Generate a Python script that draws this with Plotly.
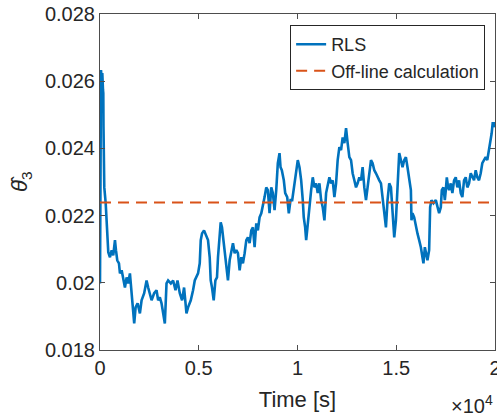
import plotly.graph_objects as go

# RLS estimate of theta_3 over time (s)
time_s = [
    0, 15, 35, 50, 86, 116, 152, 167, 177, 217, 288, 338, 389, 419, 505, 591, 672, 758, 808, 874,
    960, 1010, 1096, 1177, 1263, 1348, 1429, 1515, 1601, 1682, 1732, 1803, 1904, 2020, 2106, 2237,
    2358, 2439, 2525, 2611, 2742, 2863, 2944, 3030, 3116, 3232, 3283, 3368, 3449, 3586, 3702, 3823,
    3924, 4040, 4156, 4257, 4378, 4459, 4596, 4712, 4798, 4964,
    5050, 5101, 5166, 5267, 5388, 5469, 5555, 5606, 5671, 5757, 5843, 5924, 5974, 6060, 6111, 6176,
    6277, 6398, 6479, 6565, 6651, 6732, 6818, 6903, 6984, 7070, 7156, 7237, 7323, 7408, 7489, 7575,
    7661, 7742, 7828, 7913, 7994, 8080, 8166, 8247, 8333, 8418, 8499, 8585, 8671, 8752, 8838, 8923,
    9004, 9090, 9141, 9206, 9307, 9378, 9479, 9560, 9646, 9731, 9812, 9933, 10014,
    10100, 10186, 10267, 10317, 10388, 10439, 10489, 10555, 10605, 10691, 10772, 10858, 10943, 11024,
    11110, 11196, 11277, 11363, 11448, 11529, 11615, 11701, 11782, 11868, 11953, 12034, 12120, 12206,
    12287, 12373, 12458, 12539, 12625, 12711, 12792, 12878, 12963, 13044, 13130, 13216, 13297, 13383,
    13468, 13549, 13635, 13721, 13802, 13888, 13973, 14054, 14140, 14226, 14307, 14393, 14478, 14559,
    14645, 14731, 14812, 14898, 14983, 15064,
    15150, 15236, 15317, 15403, 15488, 15569, 15655, 15741, 15771, 15822, 15908, 15993, 16074, 16160,
    16246, 16327, 16377, 16448, 16499, 16580, 16665, 16716, 16782, 16883, 17004, 17085, 17170, 17256,
    17307, 17388, 17459, 17509, 17560, 17626, 17675, 17761, 17842, 17928, 18013, 18094, 18180, 18266,
    18347, 18433, 18518, 18599, 18685, 18771, 18852, 18938, 19023, 19104, 19190, 19276, 19357, 19443,
    19528, 19609, 19695, 19781, 19831, 19882, 19948, 20000,
]

theta3_rls = [
    0.01998, 0.02246, 0.02544, 0.02633, 0.02603, 0.02624, 0.02574, 0.02565, 0.02463, 0.02284,
    0.02237, 0.02165, 0.02106, 0.02091, 0.02076, 0.02097, 0.02082, 0.02127, 0.02097, 0.02067,
    0.02058, 0.02028, 0.02037, 0.02007, 0.01986, 0.02016, 0.01998, 0.02028, 0.01969, 0.01927,
    0.01879, 0.01927, 0.01939, 0.01909, 0.01948, 0.01969, 0.02007, 0.01986, 0.01969, 0.01948,
    0.01969, 0.01978, 0.01948, 0.01957, 0.01939, 0.01897, 0.01879, 0.01998, 0.02007, 0.01998,
    0.02007, 0.01978, 0.02007, 0.01969, 0.01948, 0.01986, 0.01909, 0.01927, 0.01948, 0.01978,
    0.02007, 0.02028,
    0.02058, 0.02127, 0.02147, 0.02156, 0.02141, 0.02127, 0.02076, 0.02007, 0.01986, 0.01948,
    0.02007, 0.02016, 0.02076, 0.02165, 0.02180, 0.02165, 0.02106, 0.02046, 0.02007, 0.02067,
    0.02097, 0.02118, 0.02088, 0.02097, 0.02088, 0.02037, 0.02076, 0.02058, 0.02088, 0.02127,
    0.02135, 0.02118, 0.02156, 0.02165, 0.02106, 0.02177, 0.02156, 0.02195, 0.02207, 0.02237,
    0.02255, 0.02284, 0.02276, 0.02207, 0.02284, 0.02267, 0.02216, 0.02276, 0.02356, 0.02386,
    0.02344, 0.02335, 0.02305, 0.02267, 0.02255, 0.02207, 0.02246, 0.02246, 0.02284, 0.02344,
    0.02365,
    0.02344, 0.02305, 0.02246, 0.02195, 0.02165, 0.02127, 0.02156, 0.02195, 0.02246, 0.02276,
    0.02314, 0.02284, 0.02296, 0.02267, 0.02296, 0.02246, 0.02225, 0.02186, 0.02267, 0.02296,
    0.02314, 0.02296, 0.02305, 0.02255, 0.02296, 0.02365, 0.02404, 0.02395, 0.02433, 0.02416,
    0.02460, 0.02416, 0.02374, 0.02365, 0.02326, 0.02305, 0.02284, 0.02296, 0.02314, 0.02305,
    0.02344, 0.02284, 0.02246, 0.02284, 0.02326, 0.02365, 0.02356, 0.02335, 0.02326, 0.02314,
    0.02305, 0.02296, 0.02255, 0.02207, 0.02165, 0.02246, 0.02296, 0.02284, 0.02216, 0.02135,
    0.02186, 0.02267,
    0.02386, 0.02365, 0.02344, 0.02365, 0.02374, 0.02344, 0.02305, 0.02276, 0.02186, 0.02207,
    0.02195, 0.02165, 0.02147, 0.02127, 0.02106, 0.02076, 0.02058, 0.02106, 0.02088, 0.02067,
    0.02097, 0.02225, 0.02246, 0.02237, 0.02246, 0.02225, 0.02207, 0.02225, 0.02276, 0.02284,
    0.02246, 0.02276, 0.02314, 0.02284, 0.02276, 0.02296, 0.02267, 0.02305, 0.02314, 0.02284,
    0.02305, 0.02267, 0.02255, 0.02305, 0.02314, 0.02284, 0.02296, 0.02326, 0.02314, 0.02305,
    0.02335, 0.02314, 0.02305, 0.02326, 0.02356, 0.02365, 0.02374, 0.02365, 0.02395, 0.02425,
    0.02445, 0.02475, 0.02475, 0.02463,
]

# Off-line (batch) estimate
theta3_offline = 0.02239
offline_span = [0, 20000]

x_tick_vals = [0, 5000, 10000, 15000, 20000]
x_tick_text = ["0", "0.5", "1", "1.5", "2"]
y_tick_vals = [0.018, 0.020, 0.022, 0.024, 0.026, 0.028]
y_tick_text = ["0.018", "0.02", "0.022", "0.024", "0.026", "0.028"]

FONT = "Liberation Sans, Arial, Helvetica, sans-serif"
AX_COLOR = "#4d4d4d"
TXT_COLOR = "#262626"

fig = go.Figure()
fig.add_trace(go.Scatter(
    x=time_s, y=theta3_rls, mode="lines", name="RLS",
    line=dict(color="#0072BD", width=2.6),
))
fig.add_trace(go.Scatter(
    x=offline_span, y=[theta3_offline, theta3_offline], mode="lines",
    name="Off-line calculation",
    line=dict(color="#D95319", width=2, dash="11px,7px"),
))

axis_common = dict(
    showline=True, linecolor=AX_COLOR, linewidth=1, mirror="ticks",
    ticks="inside", ticklen=5, tickcolor=AX_COLOR, tickwidth=1,
    showgrid=False, zeroline=False, automargin=False,
    tickfont=dict(family=FONT, size=20, color=TXT_COLOR),
)

fig.update_layout(
    width=497, height=417,
    margin=dict(l=100, r=2, t=14, b=67),
    paper_bgcolor="white", plot_bgcolor="white",
    showlegend=True,
    legend=dict(
        x=0.975, y=0.967, xanchor="right", yanchor="top",
        bordercolor=TXT_COLOR, borderwidth=1, bgcolor="white",
        font=dict(family=FONT, size=18, color=TXT_COLOR),
        tracegroupgap=0, itemwidth=30,
    ),
    xaxis=dict(
        range=[0, 20000], tickvals=x_tick_vals, ticktext=x_tick_text,
        ticklabeloverflow="allow",
        title=dict(text="Time [s]", font=dict(family=FONT, size=22, color=TXT_COLOR), standoff=13),
        **axis_common,
    ),
    yaxis=dict(
        range=[0.018, 0.028], tickvals=y_tick_vals, ticktext=y_tick_text,
        **axis_common,
    ),
)

# y-axis label: theta-hat with subscript 3
fig.add_annotation(
    text="<i>θ̂</i><sub>3</sub>", xref="paper", yref="paper",
    x=-0.2, y=0.5, xanchor="center", yanchor="middle",
    textangle=-90, showarrow=False,
    font=dict(family=FONT, size=22, color=TXT_COLOR),
)

# axis exponent marker
fig.add_annotation(
    text="×10<sup>4</sup>", xref="paper", yref="paper",
    x=1.0, y=-0.12, xanchor="right", yanchor="top",
    showarrow=False,
    font=dict(family=FONT, size=20, color=TXT_COLOR),
)

fig.write_html("out.html")
